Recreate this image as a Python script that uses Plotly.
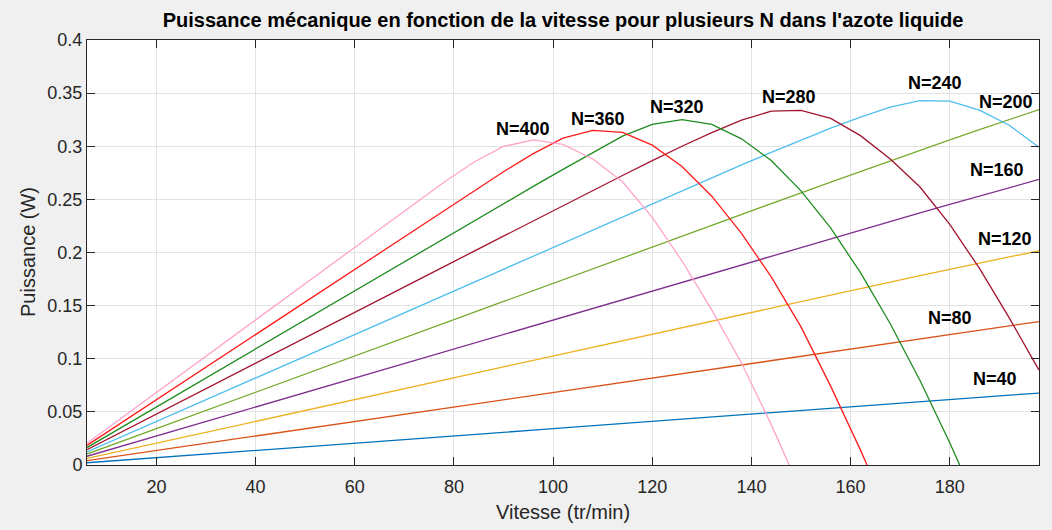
import plotly.graph_objects as go

# Vitesse (tr/min)
vitesse = [6, 12, 18, 24, 30, 36, 42, 48, 54, 60, 66, 72, 78, 84, 90, 96, 102,
           108, 114, 120, 126, 132, 138, 144, 150, 156, 162, 168, 174, 180,
           186, 192, 198]

# Puissance mécanique (W) pour chaque N
p_n40 = [0.0021, 0.0041, 0.0062, 0.0082, 0.0103, 0.0123, 0.0144, 0.0164, 0.0185,
         0.0205, 0.0226, 0.0246, 0.0267, 0.0287, 0.0308, 0.0328, 0.0349, 0.0369,
         0.0390, 0.0410, 0.0431, 0.0451, 0.0472, 0.0492, 0.0513, 0.0534, 0.0554,
         0.0575, 0.0595, 0.0616, 0.0636, 0.0657, 0.0677]
p_n80 = [0.0041, 0.0082, 0.0123, 0.0164, 0.0205, 0.0246, 0.0287, 0.0328, 0.0369,
         0.0410, 0.0451, 0.0492, 0.0534, 0.0575, 0.0616, 0.0657, 0.0698, 0.0739,
         0.0780, 0.0821, 0.0862, 0.0903, 0.0944, 0.0985, 0.1026, 0.1067, 0.1108,
         0.1149, 0.1190, 0.1231, 0.1271, 0.1311, 0.1350]
p_n120 = [0.0062, 0.0123, 0.0185, 0.0246, 0.0308, 0.0369, 0.0431, 0.0492, 0.0554,
          0.0616, 0.0677, 0.0739, 0.0800, 0.0862, 0.0923, 0.0985, 0.1047, 0.1108,
          0.1170, 0.1231, 0.1293, 0.1354, 0.1416, 0.1477, 0.1538, 0.1600, 0.1661,
          0.1722, 0.1782, 0.1842, 0.1900, 0.1958, 0.2014]
p_n160 = [0.0082, 0.0164, 0.0246, 0.0328, 0.0410, 0.0492, 0.0575, 0.0657, 0.0739,
          0.0821, 0.0903, 0.0985, 0.1067, 0.1149, 0.1231, 0.1313, 0.1395, 0.1477,
          0.1560, 0.1642, 0.1724, 0.1806, 0.1888, 0.1970, 0.2051, 0.2133, 0.2214,
          0.2294, 0.2373, 0.2452, 0.2530, 0.2608, 0.2688]
p_n200 = [0.0103, 0.0205, 0.0308, 0.0410, 0.0513, 0.0616, 0.0718, 0.0821, 0.0923,
          0.1026, 0.1129, 0.1231, 0.1334, 0.1436, 0.1539, 0.1642, 0.1744, 0.1847,
          0.1949, 0.2052, 0.2154, 0.2256, 0.2358, 0.2460, 0.2562, 0.2663, 0.2764,
          0.2864, 0.2962, 0.3060, 0.3156, 0.3251, 0.3345]
p_n240 = [0.0123, 0.0246, 0.0369, 0.0492, 0.0616, 0.0739, 0.0862, 0.0985, 0.1108,
          0.1231, 0.1354, 0.1477, 0.1601, 0.1724, 0.1847, 0.1970, 0.2093, 0.2216,
          0.2339, 0.2461, 0.2583, 0.2704, 0.2824, 0.2942, 0.3058, 0.3170, 0.3275,
          0.3368, 0.3430, 0.3425, 0.3340, 0.3198, 0.2990]
p_n280 = [0.0144, 0.0287, 0.0431, 0.0575, 0.0718, 0.0862, 0.1005, 0.1149, 0.1293,
          0.1436, 0.1580, 0.1724, 0.1867, 0.2011, 0.2155, 0.2298, 0.2441, 0.2584,
          0.2725, 0.2864, 0.3000, 0.3128, 0.3245, 0.3330, 0.3338, 0.3262, 0.3100,
          0.2880, 0.2616, 0.2265, 0.1850, 0.1385, 0.0893]
p_n320 = [0.0164, 0.0328, 0.0492, 0.0657, 0.0821, 0.0985, 0.1149, 0.1313, 0.1477,
          0.1642, 0.1806, 0.1970, 0.2134, 0.2297, 0.2460, 0.2622, 0.2782, 0.2942,
          0.3095, 0.3205, 0.3250, 0.3205, 0.3070, 0.2865, 0.2580, 0.2230, 0.1810,
          0.1330, 0.0795, 0.0210, -0.0420, None, None]
p_n360 = [0.0185, 0.0369, 0.0554, 0.0739, 0.0923, 0.1108, 0.1293, 0.1477, 0.1662,
          0.1847, 0.2031, 0.2216, 0.2399, 0.2580, 0.2760, 0.2930, 0.3076, 0.3150,
          0.3130, 0.3010, 0.2810, 0.2530, 0.2180, 0.1770, 0.1300, 0.0740, 0.0140,
          -0.0500, None, None, None, None, None]
p_n400 = [0.0205, 0.0410, 0.0616, 0.0821, 0.1026, 0.1231, 0.1436, 0.1642, 0.1847,
          0.2052, 0.2256, 0.2460, 0.2662, 0.2850, 0.2998, 0.3060, 0.3017, 0.2880,
          0.2665, 0.2330, 0.1920, 0.1460, 0.0960, 0.0380, -0.0250, None, None,
          None, None, None, None, None, None]

labels_n = ["N=40", "N=80", "N=120", "N=160", "N=200",
            "N=240", "N=280", "N=320", "N=360", "N=400"]
series = [p_n40, p_n80, p_n120, p_n160, p_n200,
          p_n240, p_n280, p_n320, p_n360, p_n400]
colors = ["#0072BD", "#D95319", "#EDB120", "#7E2F8E", "#77AC30",
          "#4DBEEE", "#A2142F", "#1F8C1F", "#FF1A1A", "#FFA3CC"]

# Text label anchor points (vitesse, puissance) for each curve
label_x = [189.1, 180.1, 191.1, 189.5, 191.3, 177.0, 147.6, 124.9, 109.1, 94.0]
label_y = [0.0805, 0.1379, 0.2124, 0.2773, 0.3415, 0.3593, 0.3468, 0.3374, 0.3258, 0.3167]

x_ticks = [20, 40, 60, 80, 100, 120, 140, 160, 180]
y_ticks = [0, 0.05, 0.1, 0.15, 0.2, 0.25, 0.3, 0.35, 0.4]
y_tick_text = ["0", "0.05", "0.1", "0.15", "0.2", "0.25", "0.3", "0.35", "0.4"]

FONT = "Liberation Sans, Arial"

fig = go.Figure()
for name, ys, col in zip(labels_n, series, colors):
    fig.add_trace(go.Scatter(
        x=vitesse, y=ys, mode="lines", name=name,
        line=dict(color=col, width=1.3),
        connectgaps=False, showlegend=False, hoverinfo="skip"))

for txt, lx, ly in zip(labels_n, label_x, label_y):
    fig.add_annotation(x=lx, y=ly, text="<b>%s</b>" % txt, showarrow=False,
                       font=dict(family=FONT, size=18, color="#000000"),
                       xanchor="center", yanchor="middle")

# Axis titles
fig.add_annotation(xref="paper", yref="paper", x=0.5, y=-0.1106,
                   text="Vitesse (tr/min)", showarrow=False,
                   xanchor="center", yanchor="middle",
                   font=dict(family=FONT, size=20, color="#262626"))
fig.add_annotation(xref="paper", yref="paper", x=-0.0625, y=0.5,
                   text="Puissance (W)", showarrow=False, textangle=-90,
                   xanchor="center", yanchor="middle",
                   font=dict(family=FONT, size=20, color="#262626"))

axis_common = dict(
    showline=True, linecolor="#262626", linewidth=1, mirror="ticks",
    ticks="inside", ticklen=8, tickcolor="#262626", tickwidth=1,
    showgrid=True, gridcolor="#E3E3E3", gridwidth=1, zeroline=False,
    automargin=False,
    tickfont=dict(family=FONT, size=18, color="#262626"),
)

fig.update_layout(
    width=1052, height=530,
    margin=dict(l=87, r=13, t=40, b=65),
    paper_bgcolor="#F0F0F0", plot_bgcolor="#FFFFFF",
    title=dict(
        text="<b>Puissance mécanique en fonction de la vitesse pour plusieurs N dans l'azote liquide</b>",
        x=(87 + 1039) / 2 / 1052, xanchor="center", y=1 - 20 / 530, yanchor="middle",
        font=dict(family=FONT, size=20, color="#000000")),
    xaxis=dict(range=[6, 198], tickvals=x_ticks, ticklabelstandoff=5,
               **axis_common),
    yaxis=dict(range=[0, 0.4], tickvals=y_ticks, ticktext=y_tick_text,
               **axis_common),
)

fig.write_html("out.html")
